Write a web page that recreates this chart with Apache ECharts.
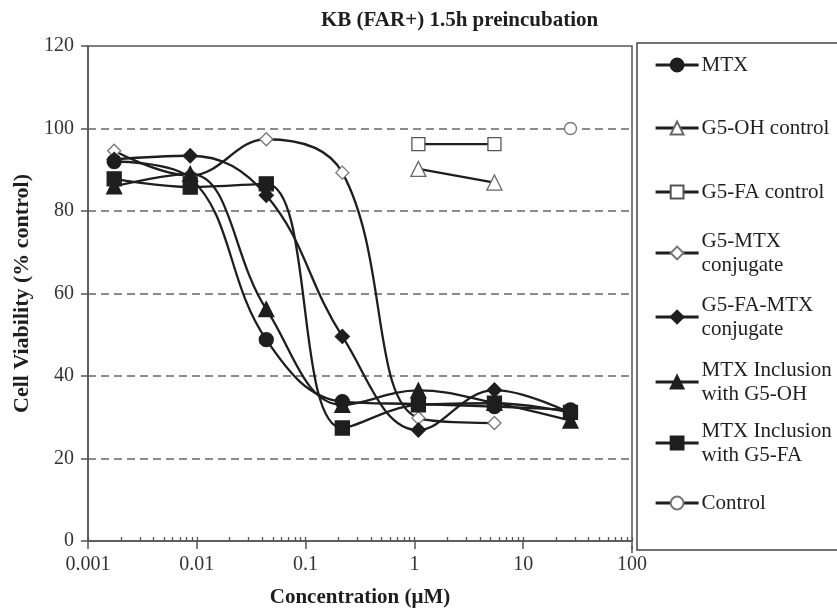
<!DOCTYPE html>
<html>
<head>
<meta charset="utf-8">
<script src="https://cdn.jsdelivr.net/npm/echarts@6/dist/echarts.min.js"></script>
<style>
html,body{margin:0;padding:0;background:#fff;}
#chart{width:837px;height:613px;}
</style>
</head>
<body>
<div id="chart"></div>
<script>
// ---- data ----
var concentrations = [0.00174, 0.0087, 0.0435, 0.2176, 1.088, 5.44, 27.2];
var seriesNames = ['MTX', 'G5-OH control', 'G5-FA control', 'G5-MTX conjugate', 'G5-FA-MTX conjugate', 'MTX Inclusion with G5-OH', 'MTX Inclusion with G5-FA', 'Control'];
var legendLabels = ['MTX', 'G5-OH control', 'G5-FA control', 'G5-MTX\nconjugate', 'G5-FA-MTX\nconjugate', 'MTX Inclusion\nwith G5-OH', 'MTX Inclusion\nwith G5-FA', 'Control'];
var mtx        = [92.0, 88.0, 48.8, 33.8, 33.2, 32.6, 31.8];
var g5ohCtrl   = [null, null, null, null, 90.2, 86.9, null];
var g5faCtrl   = [null, null, null, null, 96.2, 96.2, null];
var g5mtx      = [94.6, 88.6, 97.4, 89.3, 29.8, 28.6, null];
var g5famtx    = [92.5, 93.4, 83.8, 49.6, 26.9, 36.6, 31.0];
var inclOH     = [86.0, 89.0, 56.2, 33.0, 36.5, 33.5, 29.2];
var inclFA     = [87.8, 85.8, 86.6, 27.4, 33.0, 33.4, 31.2];
var controlVal = [null, null, null, null, null, null, 100.0];
var xTickValues = [0.001, 0.01, 0.1, 1, 10, 100];
var xTickLabels = ['0.001', '0.01', '0.1', '1', '10', '100'];
var xMinorTicks = [0.001, 0.002, 0.003, 0.004, 0.005, 0.006, 0.007, 0.008, 0.009,
                   0.01, 0.02, 0.03, 0.04, 0.05, 0.06, 0.07, 0.08, 0.09,
                   0.1, 0.2, 0.3, 0.4, 0.5, 0.6, 0.7, 0.8, 0.9,
                   1, 2, 3, 4, 5, 6, 7, 8, 9,
                   10, 20, 30, 40, 50, 60, 70, 80, 90, 100];
var allValues = [mtx, g5ohCtrl, g5faCtrl, g5mtx, g5famtx, inclOH, inclFA, controlVal];

// ---- styles ----
var FONT = 'Liberation Serif';
var INK = '#1e1e1e';
var AX = '#555555';
var markerStyles = [
  {symbol: 'circle',   size: 14, fill: INK,   border: INK},
  {symbol: 'triangle', size: 15, fill: '#fff', border: '#666'},
  {symbol: 'rect',     size: 13, fill: '#fff', border: '#555'},
  {symbol: 'diamond',  size: 13, fill: '#fff', border: '#777'},
  {symbol: 'diamond',  size: 14, fill: INK,   border: INK},
  {symbol: 'triangle', size: 15, fill: INK,   border: INK},
  {symbol: 'rect',     size: 14, fill: INK,   border: INK},
  {symbol: 'circle',   size: 12, fill: '#fff', border: '#777'}
];
var legendIconY = [65, 128, 192, 253, 317, 382, 443, 503];

function pairs(vals) {
  var out = [];
  for (var i = 0; i < vals.length; i++) {
    if (vals[i] !== null) out.push([concentrations[i], vals[i]]);
  }
  return out;
}

var series = seriesNames.map(function (name, i) {
  var m = markerStyles[i];
  return {
    name: name,
    type: 'line',
    xAxisIndex: 0,
    yAxisIndex: 0,
    data: pairs(allValues[i]),
    smooth: 0.4,
    symbol: m.symbol,
    symbolSize: m.size,
    showAllSymbol: true,
    lineStyle: {color: INK, width: 2.3},
    itemStyle: {color: m.fill, borderColor: m.border, borderWidth: 1.3},
    emphasis: {disabled: true},
    animation: false,
    z: 3 + i
  };
});

var legends = seriesNames.map(function (name, i) {
  var twoLine = legendLabels[i].indexOf('\n') >= 0;
  return {
    data: [name],
    left: 654,
    top: legendIconY[i] - (twoLine ? 36 : 12),
    orient: 'vertical',
    padding: 0,
    itemGap: 0,
    itemWidth: 43,
    itemHeight: 16,
    selectedMode: false,
    z: 20,
    formatter: function () { return legendLabels[i]; },
    lineStyle: {width: 3.2, color: INK},
    textStyle: {
      fontFamily: FONT, fontSize: 21, color: INK, lineHeight: 24,
      padding: twoLine ? [24, 0, 0, -2] : [0, 0, 0, -2]
    }
  };
});

var chart = echarts.init(document.getElementById('chart'), null, {renderer: 'canvas'});
chart.setOption({
  animation: false,
  backgroundColor: '#fff',
  title: {
    text: 'KB (FAR+) 1.5h preincubation',
    left: 321,
    top: 10,
    padding: 0,
    textStyle: {fontFamily: FONT, fontWeight: 'bold', fontSize: 21, color: INK}
  },
  grid: {
    left: 88, top: 46, right: 205, bottom: 67,
    show: true, borderColor: AX, borderWidth: 1.5, backgroundColor: 'transparent'
  },
  legend: legends,
  graphic: [
    {type: 'rect', z: 10, shape: {x: 637, y: 43, width: 220, height: 507},
     style: {fill: '#fff', stroke: '#444', lineWidth: 1.5}},
    {type: 'line', z: 10, shape: {x1: 632, y1: 546, x2: 632, y2: 553},
     style: {stroke: AX, lineWidth: 1.5}}
  ],
  xAxis: [
    {
      type: 'log', logBase: 10, min: 0.001, max: 100,
      name: 'Concentration (\u03bcM)', nameLocation: 'middle', nameGap: 46,
      nameTextStyle: {fontFamily: FONT, fontWeight: 'bold', fontSize: 21, color: INK},
      axisLine: {lineStyle: {color: AX, width: 1.5}},
      axisTick: {show: true, customValues: xTickValues, length: 8, lineStyle: {color: AX, width: 1.5}},
      axisLabel: {
        customValues: xTickValues,
        margin: 14, fontFamily: FONT, fontSize: 20, color: '#333',
        formatter: function (v) {
          for (var k = 0; k < xTickValues.length; k++) {
            if (Math.abs(Math.log10(v) - Math.log10(xTickValues[k])) < 1e-6) return xTickLabels[k];
          }
          return '';
        }
      },
      splitLine: {show: false},
      minorTick: {show: false}
    },
    {
      type: 'log', logBase: 10, min: 0.001, max: 100, position: 'bottom',
      axisLine: {show: false},
      axisTick: {show: true, customValues: xMinorTicks, inside: true, length: 4, lineStyle: {color: AX, width: 1.3}},
      axisLabel: {show: false},
      splitLine: {show: false}
    }
  ],
  yAxis: {
    type: 'value', min: 0, max: 120, interval: 20,
    name: 'Cell Viability (% control)', nameLocation: 'middle', nameGap: 55,
    nameTextStyle: {fontFamily: FONT, fontWeight: 'bold', fontSize: 22, color: INK},
    axisLine: {show: true, lineStyle: {color: AX, width: 1.5}},
    axisTick: {show: true, length: 7, lineStyle: {color: AX, width: 1.5}},
    axisLabel: {margin: 14, fontFamily: FONT, fontSize: 20, color: '#333'},
    splitLine: {show: true, showMinLine: false, showMaxLine: false,
      lineStyle: {color: '#666', width: 1.6, type: [8, 5]}}
  },
  series: series
});
</script>
</body>
</html>
